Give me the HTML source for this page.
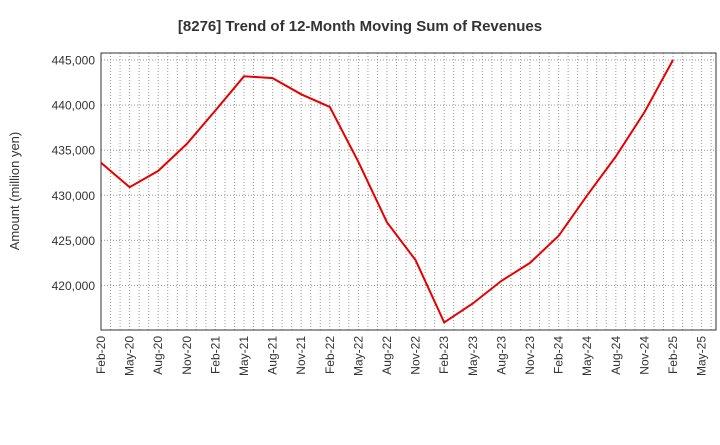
<!DOCTYPE html>
<html><head><meta charset="utf-8"><style>
body{margin:0;background:#fff;font-family:"Liberation Sans",sans-serif;}
</style></head><body>
<svg width="720" height="440" xmlns="http://www.w3.org/2000/svg">
<text x="360" y="31" text-anchor="middle" font-size="15" font-weight="bold" fill="#333">[8276]  Trend of 12-Month Moving Sum of Revenues</text>
<g id="grid"></g>
<rect x="101" y="53" width="615" height="277" fill="none" stroke="#333" stroke-width="1"/>
<g id="yt"></g><g id="xt"></g>
<text transform="translate(19,191) rotate(-90)" text-anchor="middle" font-size="13" fill="#333">Amount (million yen)</text>
<path id="line" fill="none" stroke="#e60000" stroke-width="2"/>
</svg>
<script>
const xLabels=["Feb-20","May-20","Aug-20","Nov-20","Feb-21","May-21","Aug-21","Nov-21","Feb-22","May-22","Aug-22","Nov-22","Feb-23","May-23","Aug-23","Nov-23","Feb-24","May-24","Aug-24","Nov-24","Feb-25","May-25"];
const yTicks=[420000,425000,430000,435000,440000,445000];
const values=[433600,430900,432700,435700,439400,443200,443000,441200,439800,433700,427000,422800,415900,418000,420500,422500,425500,430000,434300,439200,445000];
const X0=101,X1=716,Y0=53,Y1=330,YMIN=415060,YMAX=445780;
const QW=28.6;
const NS="http://www.w3.org/2000/svg";
const xq=i=>X0+QW*i;
const ys=v=>Y1-(v-YMIN)/(YMAX-YMIN)*(Y1-Y0);
const grid=document.getElementById('grid'),yt=document.getElementById('yt'),xt=document.getElementById('xt');
function mk(t,a,p){const e=document.createElementNS(NS,t);for(const k in a)e.setAttribute(k,a[k]);p.appendChild(e);return e;}
for(let m=1;X0+m*QW/3<X1-1;m++){const x=X0+m*QW/3;
const l=mk('line',{x1:x,x2:x,y1:Y0,y2:Y1,stroke:'#999','stroke-dasharray':'1,2'},grid);

}
yTicks.forEach(v=>{const y=ys(v);
const l=mk('line',{x1:X0,x2:X1,y1:y,y2:y,stroke:'#999','stroke-dasharray':'1,2'},grid);


const t=mk('text',{x:X0-6,y:y+4.5,'text-anchor':'end','font-size':'12',fill:'#333'},yt);
t.textContent=v.toLocaleString('en-US');

});
xLabels.forEach((s,i)=>{const x=xq(i);
const t=mk('text',{transform:`translate(${x+4},336) rotate(-90)`,'text-anchor':'end','font-size':'12',fill:'#333'},xt);
t.textContent=s;

});
document.getElementById('line').setAttribute('d',values.map((v,i)=>(i?'L':'M')+xq(i).toFixed(1)+','+ys(v).toFixed(1)).join(''));
</script>
</body></html>
